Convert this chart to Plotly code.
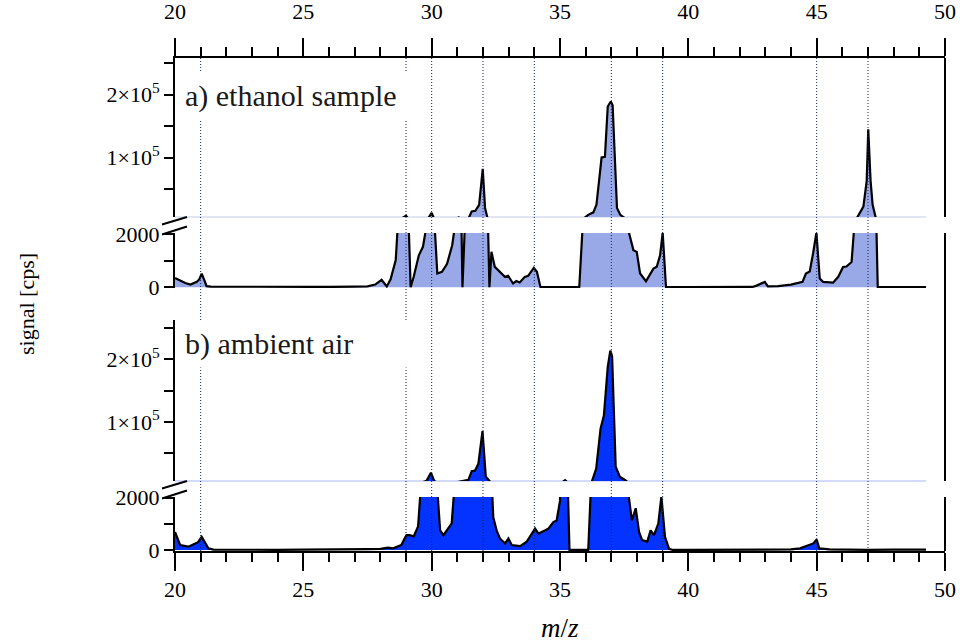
import plotly.graph_objects as go

# ---------------- data ----------------
mz_a = [20.0, 20.2, 20.4, 20.6, 20.72, 20.85, 20.95, 21.04, 21.15, 21.23, 21.4, 22.0, 23.0, 24.0,
        25.0, 26.0, 27.0, 27.5, 27.8, 28.05, 28.25, 28.4, 28.6, 28.8, 29.0, 29.1, 29.18, 29.3,
        29.5, 29.66, 29.85, 30.0, 30.1, 30.22, 30.4, 30.6, 30.8, 30.95, 31.05, 31.15, 31.2,
        31.32, 31.45, 31.56, 31.7, 31.85, 31.99, 32.08, 32.18, 32.25, 32.33, 32.46, 32.66,
        32.85, 32.98, 33.17, 33.3, 33.43, 33.63, 33.76, 33.98, 34.1, 34.24, 35.0, 35.75, 35.9,
        36.1, 36.3, 36.42, 36.62, 36.75, 36.86, 36.98, 37.05, 37.22, 37.35, 37.55, 37.7, 37.86,
        37.99, 38.12, 38.35, 38.5, 38.64, 38.77, 38.9, 39.0, 39.13, 40.0, 41.0, 42.0, 42.5,
        42.66, 42.98, 43.1, 43.5, 44.0, 44.3, 44.45, 44.58, 44.73, 44.86, 44.99, 45.12, 45.25,
        45.64, 45.84, 46.03, 46.16, 46.36, 46.49, 46.56, 46.82, 46.95, 47.01, 47.1, 47.18,
        47.31, 47.38, 48.0, 49.26]
sig_a = [350, 250, 160, 100, 160, 200, 300, 510, 250, 40, 20, 15, 10, 10,
         15, 10, 20, 30, 100, 280, 30, 300, 1020, 2500, 7500, 2500, 0, 390,
         1200, 1520, 2600, 12000, 2600, 515, 580, 880, 1580, 2600, 5000, 3000, 0,
         3000, 4500, 14500, 15500, 25000, 82000, 20000, 3000, 0, 1330, 765, 580,
         390, 430, 140, 230, 180, 390, 430, 730, 580, 0, 0, 0, 2600,
         9000, 13000, 25000, 100000, 101000, 181000, 189000, 183000, 20000, 9000, 3000, 2000, 1395,
         1330, 515, 225, 480, 700, 770, 1200, 2050, 0, 0, 0, 0, 10,
         60, 200, 30, 40, 100, 150, 200, 515, 590, 1270, 2050, 325, 200,
         170, 390, 760, 780, 950, 2600, 3500, 22000, 63000, 145000, 63000, 25000,
         3000, 0, 0, 0]

mz_b = [20.0, 20.2, 20.52, 20.78, 20.9, 21.04, 21.17, 21.3, 21.5, 22.0, 23.0, 24.0, 25.0, 26.0,
        27.0, 27.5, 28.0, 28.3, 28.5, 28.82, 28.95, 29.02, 29.14, 29.3, 29.47, 29.6, 29.8,
        29.97, 30.1, 30.2, 30.33, 30.46, 30.65, 30.78, 30.9, 31.2, 31.43, 31.56, 31.69, 31.82,
        31.98, 32.11, 32.28, 32.4, 32.53, 32.66, 32.86, 32.99, 33.12, 33.45, 33.7, 34.03,
        34.16, 34.41, 34.55, 34.74, 34.87, 35.0, 35.07, 35.2, 35.3, 35.37, 36.1, 36.23,
        36.41, 36.58, 36.71, 36.86, 36.96, 37.03, 37.17, 37.33, 37.53, 37.68, 37.8, 37.95,
        38.08, 38.2, 38.4, 38.53, 38.66, 38.83, 38.95, 39.09, 39.25, 39.4, 40.0, 42.0, 43.0,
        44.0, 44.35, 44.6, 44.87, 45.0, 45.1, 45.5, 46.0, 47.0, 48.0, 48.9, 49.26]
sig_b = [690, 190, 125, 250, 300, 500, 250, 60, 15, 10, 10, 5, 10, 10,
         20, 30, 40, 90, 60, 190, 450, 565, 565, 520, 900, 2600, 5500,
         18500, 5500, 2600, 750, 565, 820, 1020, 2600, 5000, 7000, 21000, 22000, 33000,
         85000, 12000, 4000, 1255, 750, 440, 250, 440, 190, 150, 315, 820,
         630, 750, 820, 1070, 1130, 1880, 2600, 6500, 2600, 0, 0, 3000,
         25000, 89000, 110000, 188000, 214000, 205000, 28000, 12000, 6800, 2050, 1130, 1600,
         690, 380, 320, 750, 565, 1010, 2050, 500, 40, 0, 0, 5, 10,
         20, 60, 150, 250, 400, 60, 20, 10, 5, 10, 20, 10]

marker_mz = [21, 29, 30, 32, 34, 37, 39, 45, 47]
x_ticks = [20, 25, 30, 35, 40, 45, 50]
hi_ticks = [50000, 100000, 150000, 200000, 250000]
hi_text = ["", "1×10<sup>5</sup>", "", "2×10<sup>5</sup>", ""]
lo_ticks = [0, 1000, 2000]
lo_text = ["0", "", "2000"]
labels = ["a) ethanol sample", "b) ambient air"]

# ---------------- styling helpers ----------------
W, H = 960, 643
L, R, T, B = 175, 945, 58, 551


def xp(px):
    return (px - L) / (R - L)


def yp(py):
    return (B - py) / (B - T)


FONT = "Liberation Serif"
fill_a = "#99a9e7"
fill_b = "#0433ff"
base_a = "#c3cbea"
base_b = "#a8b7f8"

fig = go.Figure()

panels = [
    ("y", "y2", mz_a, sig_a, fill_a),
    ("y3", "y4", mz_b, sig_b, fill_b),
]
for hi, lo, xs, ys, col in panels:
    for ax in (hi, lo):
        fig.add_trace(go.Scatter(
            x=xs, y=ys, xaxis="x", yaxis=ax, mode="lines",
            line=dict(color="black", width=2.2), fill="tozeroy",
            fillcolor=col, hoverinfo="skip", showlegend=False))

# invisible trace to carry the top axis
fig.add_trace(go.Scatter(x=[x_ticks[0], x_ticks[-1]], y=[None, None], xaxis="x2", yaxis="y",
                         mode="lines", showlegend=False, hoverinfo="skip"))

tickfont = dict(family=FONT, size=22, color="black")
common_y = dict(showline=True, linewidth=2, linecolor="black", ticks="outside",
                ticklen=9, tickwidth=1.5, tickcolor="black", showgrid=False,
                zeroline=False, tickfont=tickfont, anchor="x", tickmode="array",
                automargin=False)

xcommon = dict(range=[20, 50], domain=[0, 1], showline=True, linewidth=2,
               linecolor="black", ticks="outside", ticklen=18, tickwidth=1.5,
               tickcolor="black", tickmode="array", tickvals=x_ticks,
               minor=dict(dtick=1, tick0=20, ticks="outside", ticklen=9, tickwidth=1.5,
                          tickcolor="black", showgrid=False),
               showgrid=False, zeroline=False, tickfont=tickfont, automargin=False)

fig.update_layout(
    template="none",
    width=W, height=H,
    margin=dict(l=L, r=W - R, t=T, b=H - B, autoexpand=False),
    paper_bgcolor="white", plot_bgcolor="rgba(0,0,0,0)",
    xaxis=dict(anchor="y4", **xcommon),
    xaxis2=dict(anchor="y", side="top", ticklabelstandoff=10, **xcommon),
    yaxis=dict(domain=[yp(217), yp(58)], range=[5600, 258000], tickvals=hi_ticks,
               ticktext=hi_text, **common_y),
    yaxis2=dict(domain=[yp(288), yp(233)], range=[-30, 2040], tickvals=lo_ticks,
                ticktext=lo_text, **common_y),
    yaxis3=dict(domain=[yp(481), yp(320)], range=[5200, 263000], tickvals=hi_ticks,
                ticktext=hi_text, **common_y),
    yaxis4=dict(domain=[yp(551), yp(497)], range=[-40, 2030], tickvals=lo_ticks,
                ticktext=lo_text, **common_y),
)

shapes = []
# dotted marker lines
for m in marker_mz:
    shapes.append(dict(type="line", xref="x", yref="paper", x0=m, x1=m, y0=0, y1=1,
                       line=dict(color="#15225f", width=1, dash="1px,2px"), layer="above"))
# thin baseline of the upper (clipped) segments
for ax, xs, col in (("y", mz_a, base_a), ("y3", mz_b, base_b)):
    shapes.append(dict(type="line", xref="x", yref=ax + " domain", x0=xs[0], x1=xs[-1],
                       y0=0, y1=0, line=dict(color=col, width=1.2), layer="below"))
# right frame segments
for y0, y1 in ((58, 217), (233, 481), (497, 551)):
    shapes.append(dict(type="line", xref="paper", yref="paper", x0=1, x1=1,
                       y0=yp(y0), y1=yp(y1), line=dict(color="black", width=2)))
# axis break marks
for g0, g1 in ((217, 233), (481, 497)):
    shapes.append(dict(type="line", xref="paper", yref="paper", x0=xp(162), x1=xp(187),
                       y0=yp(g0 + 7.5), y1=yp(g0), line=dict(color="black", width=2)))
    shapes.append(dict(type="line", xref="paper", yref="paper", x0=xp(162), x1=xp(187),
                       y0=yp(g1 + 1.5), y1=yp(g1 - 6.5), line=dict(color="black", width=2)))
fig.update_layout(shapes=shapes)

annotations = []
for txt, cy in zip(labels, (96, 344)):
    annotations.append(dict(text=txt, xref="paper", yref="paper", x=xp(178), y=yp(cy),
                            xanchor="left", yanchor="middle", showarrow=False,
                            align="left", width=222, bgcolor="white", borderpad=6,
                            font=dict(family=FONT, size=30, color="#1a1a1a")))
annotations.append(dict(text="signal [cps]", xref="paper", yref="paper", x=xp(26),
                        y=yp(304), textangle=-90, showarrow=False, xanchor="center",
                        yanchor="middle", font=dict(family=FONT, size=22, color="black")))
annotations.append(dict(text="<i>m</i>/<i>z</i>", xref="paper", yref="paper", x=0.5,
                        y=yp(628), showarrow=False, xanchor="center", yanchor="middle",
                        font=dict(family=FONT, size=27, color="black")))
fig.update_layout(annotations=annotations)

fig.write_html("out.html")
